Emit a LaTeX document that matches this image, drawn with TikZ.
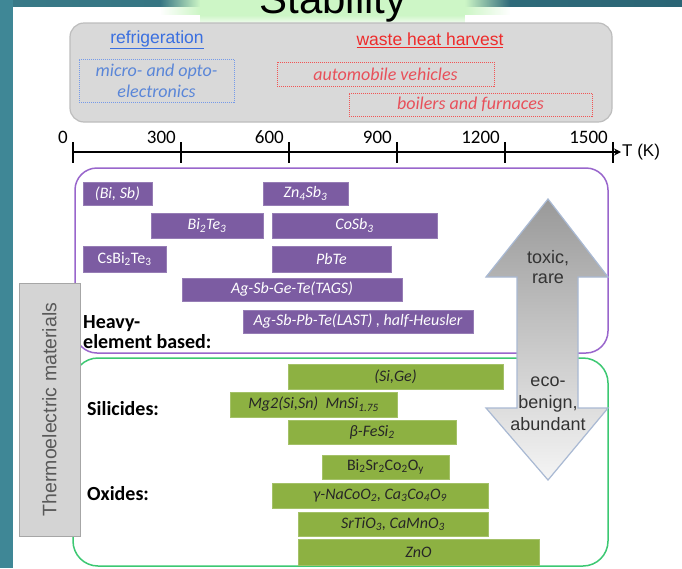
\documentclass[tikz,border=0pt]{standalone}
\usepackage{fontspec}
\setmainfont{Carlito}
\newfontfamily\arial{Liberation Sans}
\usetikzlibrary{arrows.meta,fadings}
\newcommand\myfs[2]{\fontsize{#1}{#2}\selectfont}
\newcommand\sbx[1]{\textsubscript{#1}}
\definecolor{teal1}{HTML}{3F8796}
\definecolor{teal2}{HTML}{2B6575}
\definecolor{glow}{HTML}{CDF6C6}
\definecolor{boxgray}{HTML}{D9D9D9}
\definecolor{boxgrayline}{HTML}{BDBDBD}
\definecolor{refblue}{HTML}{3A6FE0}
\definecolor{refbluetext}{HTML}{5A86D8}
\definecolor{wred}{HTML}{EE2B2B}
\definecolor{wredtext}{HTML}{E8505A}
\definecolor{purplebar}{HTML}{7C5CA2}
\definecolor{purpleline}{HTML}{9966CC}
\definecolor{greenbar}{HTML}{8DB142}
\definecolor{greenline}{HTML}{3CC872}
\definecolor{arrowline}{HTML}{A9B9D3}
\definecolor{tegray}{HTML}{D4D4D4}
\tikzfading[name=fadeR, left color=transparent!0, right color=transparent!100]
\tikzfading[name=fadeL, left color=transparent!100, right color=transparent!0]
\tikzfading[name=fadeD, top color=transparent!0, bottom color=transparent!100]
\tikzset{
  pbar/.style={fill=purplebar, draw=purplebar!80!white, line width=0.6, text=white, inner sep=0pt, font=\myfs{16}{18}\itshape},
  gbar/.style={fill=greenbar, draw=greenbar!80!white, line width=0.6, text=black!85, inner sep=0pt, font=\myfs{16}{18}\itshape},
  dotbox/.style={densely dotted, line width=1, inner sep=0pt, align=center, font=\myfs{18}{21}\itshape},
  toptext/.style={font=\arial\myfs{17.5}{20}, inner sep=0pt},
  ticklab/.style={font=\myfs{19}{20}, anchor=base east, inner sep=0pt},
  grouplab/.style={font=\myfs{20}{20}\bfseries, anchor=base west, inner sep=0pt},
  arrtext/.style={font=\arial\myfs{18}{20}, text=black!80, align=center, inner sep=0pt}
}
\begin{document}
\begin{tikzpicture}[x=1pt,y=-1pt]
\useasboundingbox (0,0) rectangle (682,568);
% background
\fill[teal1] (0,0) rectangle (682,568);
\shade[left color=teal1!90!black, right color=teal2] (13,0) rectangle (682,7);
\fill[white] (13,7) rectangle (682,568);
% glow header
\fill[glow] (200,0) rectangle (465,15);
\fill[glow, path fading=fadeL] (160,0) rectangle (200,15);
\fill[glow, path fading=fadeR] (465,0) rectangle (510,15);
\fill[glow, path fading=fadeD] (200,15) rectangle (465,26);
\node[font=\arial\myfs{42}{42}, anchor=base, inner sep=0pt] (stab) at (333,13) {Stability};
% application box
\draw[boxgrayline, fill=boxgray, rounded corners=14, line width=1.2] (70,23) rectangle (612,122);
\node[toptext, text=refblue] (refr) at (157,40) {\underline{refrigeration}};
\node[toptext, text=wred] (waste) at (430,40) {\underline{waste heat harvest}};
\node[dotbox, draw=refblue!70, text=refbluetext, minimum width=155, minimum height=43] (micro) at (156.5,80.5) {micro- and opto-\\electronics};
\node[dotbox, draw=wred!80, text=wredtext, minimum width=217, minimum height=24] (auto) at (385.5,74) {automobile vehicles};
\node[dotbox, draw=wred!80, text=wredtext, minimum width=243, minimum height=23] (boil) at (470.5,104.5) {boilers and furnaces};
% axis
\coordinate (a0) at (73,152);
\coordinate (aend) at (621,152);
\draw[line width=1.8, -{Stealth[length=7,width=7]}] (a0) -- (aend);
\node[font=\arial\myfs{17}{20}, anchor=west, inner sep=1pt] (tk) at (aend) {T (K)};
\foreach \i/\lab in {0/0,1/300,2/600,3/900,4/1200,5/1500}{
  \draw[line width=1.5] (73+108*\i,142) -- (73+108*\i,163);
  \node[ticklab] (lab\i) at (73+108*\i-5,143) {\lab};
}
% material groups
\draw[purpleline, line width=1.5, rounded corners=22] (75,168) rectangle (608,353);
\draw[greenline, line width=1.5, rounded corners=25] (73,358) rectangle (608,566);
% heavy element bars
\node[pbar, minimum width=69, minimum height=23] (bisb) at (117.5,193.5) {(Bi, Sb)};
\node[pbar, minimum width=85, minimum height=23] (znsb) at (305.5,193.5) {Zn\sbx{4}Sb\sbx{3}};
\node[pbar, minimum width=112, minimum height=25] (bite) at (207,225.5) {Bi\sbx{2}Te\sbx{3}};
\node[pbar, minimum width=165, minimum height=25] (cosb) at (354.5,225.5) {CoSb\sbx{3}};
\node[pbar, minimum width=83, minimum height=26, font=\myfs{16}{18}] (csbite) at (124.5,259) {CsBi\sbx{2}Te\sbx{3}};
\node[pbar, minimum width=119, minimum height=26] (pbte) at (331.5,259) {PbTe};
\node[pbar, minimum width=220, minimum height=23] (tags) at (292,289.5) {Ag-Sb-Ge-Te(TAGS)};
\node[pbar, minimum width=230, minimum height=23] (last) at (358,321.5) {Ag-Sb-Pb-Te(LAST) , half-Heusler};
\node[grouplab] (heavy1) at (83,328) {Heavy-};
\node[grouplab] (heavy2) at (83,348) {element based:};
% silicides / oxides bars
\node[gbar, minimum width=215, minimum height=25] (sige) at (395.5,376.5) {(Si,Ge)};
\node[gbar, minimum width=167, minimum height=25] (mgsi) at (313.5,404.5) {Mg2(Si,Sn)\ \ MnSi\sbx{1.75}};
\node[gbar, minimum width=168, minimum height=24] (fesi) at (372,432) {β-FeSi\sbx{2}};
\node[gbar, minimum width=127, minimum height=24, font=\myfs{16}{18}] (bsco) at (385.5,467) {Bi\sbx{2}Sr\sbx{2}Co\sbx{2}O\sbx{y}};
\node[gbar, minimum width=216, minimum height=25] (naco) at (380,495.5) {γ-NaCoO\sbx{2}, Ca\sbx{3}Co\sbx{4}O\sbx{9}};
\node[gbar, minimum width=190, minimum height=24] (srti) at (393,524) {SrTiO\sbx{3}, CaMnO\sbx{3}};
\node[gbar, minimum width=241, minimum height=26] (zno) at (418.5,552) {ZnO};
\node[grouplab] (sili) at (87,415) {Silicides:};
\node[grouplab] (oxi) at (87,500) {Oxides:};
% thermoelectric label
\node[draw=black!35, fill=tegray, line width=0.8, minimum width=253, minimum height=61, inner sep=0pt, rotate=90, text=black!65, font=\arial\myfs{19.5}{20}] (te) at (49.5,409.5) {Thermoelectric materials};
% double arrow
\shade[top color=black!40, middle color=black!20, bottom color=black!4, draw=arrowline, line width=1.2]
  (548,199) -- (608,277) -- (578,277) -- (578,408) -- (608,408) -- (548,480) -- (486,408) -- (517,408) -- (517,277) -- (486,277) -- cycle;
\node[arrtext] (toxic) at (548,267) {toxic,\\rare};
\node[arrtext, font=\arial\myfs{18}{22}] (eco) at (548,404) {eco-\\benign,\\abundant};
\end{tikzpicture}
\end{document}
